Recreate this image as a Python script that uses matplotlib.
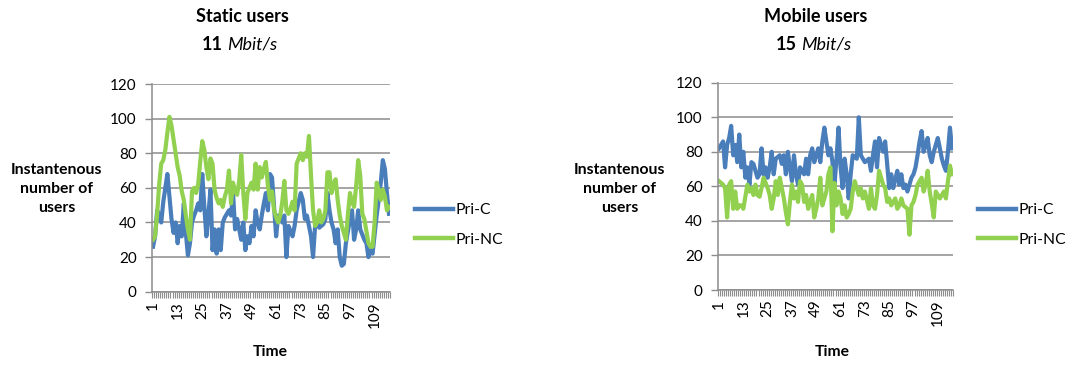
import numpy as np
import matplotlib
matplotlib.use("Agg")
import matplotlib.pyplot as plt
from matplotlib.lines import Line2D

plt.rcParams['font.family'] = ['Lato', 'DejaVu Sans']

# Instantaneous number of users per time slot
static_pri_c = [26, 32, 47, 44, 40, 52, 60, 68, 55, 42, 34, 40, 28, 38, 32, 51, 34, 21, 28, 40,
                44, 47, 51, 47, 68, 49, 32, 45, 59, 24, 36, 22, 36, 24, 40, 43, 45, 47, 44, 57,
                36, 42, 36, 30, 40, 24, 32, 28, 38, 32, 47, 40, 36, 44, 51, 57, 47, 68, 66, 49,
                32, 44, 42, 40, 44, 20, 38, 35, 32, 38, 47, 52, 57, 53, 42, 44, 38, 32, 20, 38,
                42, 37, 38, 39, 42, 57, 47, 40, 36, 28, 36, 20, 15, 16, 28, 35, 42, 47, 30, 36,
                47, 36, 33, 30, 28, 20, 24, 22, 33, 44, 53, 63, 76, 71, 57, 45]
static_pri_nc = [30, 32, 45, 62, 74, 76, 82, 92, 101, 96, 88, 80, 72, 67, 58, 53, 44, 36, 30, 58,
                 60, 57, 62, 75, 87, 82, 72, 65, 77, 74, 59, 54, 51, 53, 49, 55, 59, 70, 51, 63,
                 58, 56, 64, 79, 57, 42, 57, 60, 63, 59, 74, 59, 72, 66, 71, 75, 61, 53, 58, 47,
                 43, 40, 44, 52, 64, 47, 45, 48, 52, 47, 74, 77, 80, 76, 80, 78, 90, 67, 47, 38,
                 40, 47, 40, 42, 47, 69, 69, 57, 62, 65, 53, 44, 38, 34, 30, 45, 57, 52, 49, 61,
                 76, 67, 45, 42, 35, 28, 26, 26, 40, 63, 59, 53, 59, 55, 47, 49]
mobile_pri_c = [82, 84, 86, 71, 84, 88, 95, 78, 84, 74, 90, 71, 80, 65, 71, 61, 74, 73, 69, 65,
                67, 82, 67, 71, 65, 71, 80, 67, 76, 77, 78, 73, 78, 67, 80, 71, 63, 78, 67, 61,
                71, 69, 67, 76, 67, 78, 82, 74, 78, 82, 74, 86, 94, 86, 78, 82, 74, 61, 76, 94,
                71, 59, 76, 67, 53, 67, 78, 77, 76, 100, 78, 76, 74, 75, 76, 69, 78, 86, 71, 88,
                84, 80, 86, 73, 59, 67, 59, 64, 69, 61, 67, 59, 61, 57, 61, 65, 67, 71, 78, 86,
                92, 80, 84, 88, 78, 74, 80, 84, 88, 82, 76, 72, 69, 80, 94, 82]
mobile_pri_nc = [63, 62, 61, 59, 42, 61, 63, 47, 57, 47, 49, 49, 47, 54, 61, 57, 59, 55, 61, 55,
                 54, 59, 65, 62, 59, 55, 47, 53, 63, 55, 65, 59, 53, 45, 38, 51, 61, 53, 57, 51,
                 63, 61, 51, 55, 47, 51, 55, 42, 47, 53, 65, 49, 53, 57, 67, 71, 34, 62, 49, 57,
                 53, 44, 49, 42, 44, 47, 57, 63, 59, 55, 59, 53, 57, 52, 47, 59, 49, 47, 55, 69,
                 65, 61, 59, 51, 53, 49, 51, 53, 47, 49, 53, 49, 48, 47, 32, 49, 51, 55, 61, 63,
                 65, 57, 61, 69, 57, 50, 42, 57, 55, 53, 55, 57, 53, 63, 72, 67]

titles = ["Static users", "Mobile users"]
rates = ["11", "15"]
series_names = ["Pri-C", "Pri-NC"]
tick_labels = [1, 13, 25, 37, 49, 61, 73, 85, 97, 109]

blue = "#4a7ebb"
green = "#92d050"
grid_col = "#8c8c8c"

W, H = 1067, 365
fig = plt.figure(figsize=(W / 100, H / 100), dpi=100)


def px(x, y):
    return x / W, 1 - y / H


def make_panel(rect, c_vals, nc_vals, title, rate, xoff):
    ax = fig.add_axes(rect)
    x = np.arange(1, len(c_vals) + 1)
    ax.plot(x, c_vals, color=blue, lw=3, solid_joinstyle='round')
    ax.plot(x, nc_vals, color=green, lw=3, solid_joinstyle='round')
    n = len(c_vals)
    ax.set_xlim(0.5, n + 0.5)
    ax.set_ylim(0, 120)
    ax.set_yticks(range(0, 121, 20))
    ax.yaxis.grid(True, color=grid_col, lw=1.1)
    ax.set_axisbelow(True)
    for s in ("top", "right"):
        ax.spines[s].set_visible(False)
    for s in ("left", "bottom"):
        ax.spines[s].set_color(grid_col)
        ax.spines[s].set_linewidth(1.1)
    ax.set_xticks(tick_labels)
    ax.set_xticklabels([str(t) for t in tick_labels], rotation=90, fontsize=11)
    ax.set_xticks(np.arange(0.5, n + 1, 1), minor=True)
    ax.tick_params(axis='x', which='major', length=0, pad=7)
    ax.tick_params(axis='x', which='minor', length=4, color=grid_col, width=0.8)
    ax.tick_params(axis='y', length=5, color=grid_col, width=1, labelsize=11, pad=6)

    # titles above the chart
    fig.text(*px(242 + xoff, 17), title, ha='center', va='center',
             fontsize=13, fontweight='bold')
    fig.text(*px(223 + xoff, 45), rate, ha='right', va='center',
             fontsize=13, fontweight='bold')
    fig.text(*px(227 + xoff, 45), "Mbit/s", ha='left', va='center',
             fontsize=13, style='italic')
    fig.text(*px(57 + xoff * 0.98, 189), "Instantenous\nnumber of\nusers",
             ha='center', va='center', fontsize=11.3, fontweight='bold',
             linespacing=1.45)
    fig.text(*px(270 + xoff * 0.98, 352), "Time", ha='center', va='center',
             fontsize=11.3, fontweight='bold')

    handles = [Line2D([], [], color=blue, lw=3.2), Line2D([], [], color=green, lw=3.2)]
    lx = rect[0] + rect[2] + 25 / W
    fig.legend(handles, series_names, loc='center left',
               bbox_to_anchor=(lx, 1 - 225 / H), frameon=False, fontsize=11.3,
               handlelength=2.4, handletextpad=0.2, labelspacing=1.0,
               borderpad=0, borderaxespad=0)
    return ax


make_panel([152 / W, 1 - 291.7 / H, 238 / W, 207.7 / H],
           static_pri_c, static_pri_nc, titles[0], rates[0], 0)
make_panel([718 / W, 1 - 290 / H, 235 / W, 207.3 / H],
           mobile_pri_c, mobile_pri_nc, titles[1], rates[1], 574)

fig.savefig("out.png", dpi=100)
